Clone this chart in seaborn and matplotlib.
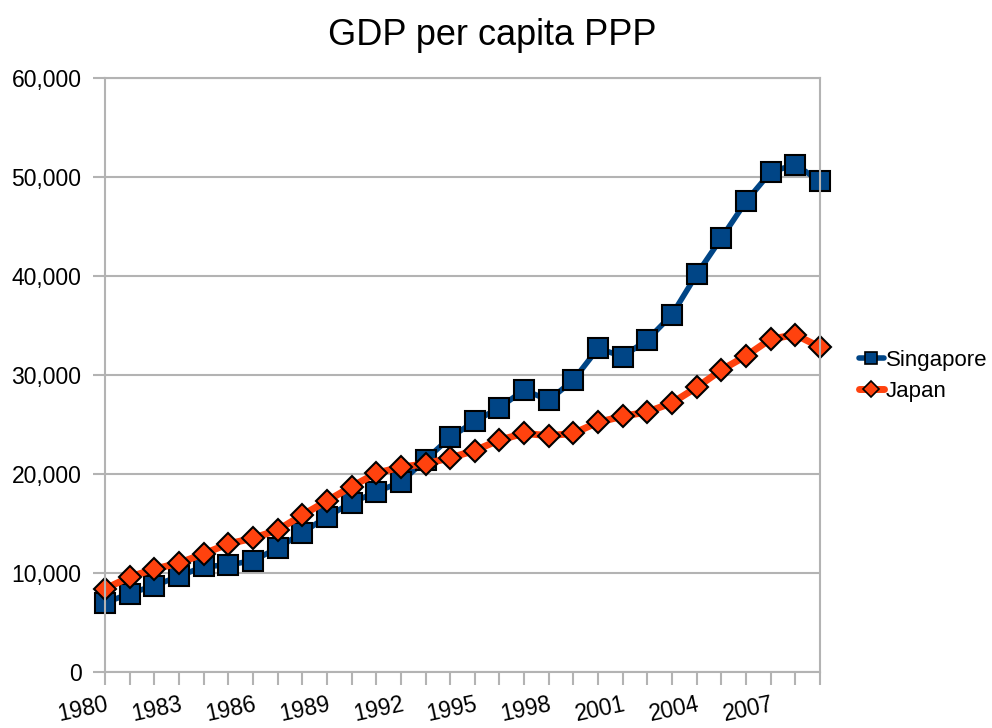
import numpy as np
import pandas as pd
import seaborn as sns
import matplotlib.pyplot as plt

# GDP per capita PPP
years = list(range(1980, 2010))
singapore = [6990, 7920, 8730, 9660, 10660, 10800, 11260, 12500, 14070, 15680,
             17100, 18180, 19190, 21430, 23700, 25310, 26710, 28490, 27450, 29490,
             32700, 31860, 33560, 36100, 40170, 43830, 47530, 50510, 51260, 49560]
japan = [8390, 9600, 10400, 11000, 11940, 12940, 13510, 14340, 15850, 17280,
         18720, 20090, 20690, 21030, 21630, 22370, 23440, 24100, 23870, 24100,
         25230, 25830, 26270, 27190, 28750, 30510, 31930, 33630, 34070, 32820]
countries = ['Singapore', 'Japan']
colors = ['#004586', '#ff420e']

df = pd.DataFrame({
    'year': years * 2,
    'gdp': singapore + japan,
    'country': ['Singapore'] * len(years) + ['Japan'] * len(years),
})

sns.set_theme(style='white')
plt.rcParams['font.family'] = ['Liberation Sans', 'DejaVu Sans']
plt.rcParams['text.color'] = 'black'

fig = plt.figure(figsize=(9.92, 7.28), dpi=100)
ax = fig.add_axes([105 / 992, 56 / 728, 715 / 992, 594 / 728])

sns.lineplot(data=df, x='year', y='gdp', hue='country', style='country',
             hue_order=countries, style_order=countries,
             palette=dict(zip(countries, colors)),
             markers={'Singapore': 's', 'Japan': 'D'}, dashes=False,
             linewidth=4, markersize=15, markeredgecolor='black',
             markeredgewidth=1.5, ax=ax)

# japan diamonds a bit smaller, thicker line; markers not clipped at the edges
for line in ax.get_lines():
    line.set_clip_on(False)
    if line.get_marker() == 'D':
        line.set_markersize(11.5)
        line.set_linewidth(5)

ax.set_xlim(1980, 2009)
ax.set_ylim(0, 60000)
ax.set_yticks(range(0, 60001, 10000))
ax.set_yticklabels([f'{v:,}' for v in range(0, 60001, 10000)])
ax.set_xticks(years)
ax.set_xticklabels([str(y) if (y - 1980) % 3 == 0 else '' for y in years],
                   rotation=12, ha='right', va='top', rotation_mode='anchor')
ax.tick_params(axis='both', direction='out', length=9, width=1.5, color='#b3b3b3',
               labelsize=16.5, labelcolor='black', bottom=True, left=True)
ax.tick_params(axis='x', pad=6)
ax.tick_params(axis='y', pad=8)
ax.yaxis.grid(True, color='#b3b3b3', linewidth=1.5)
ax.xaxis.grid(False)
for s in ax.spines.values():
    s.set_color('#b3b3b3')
    s.set_linewidth(1.5)
ax.set_axisbelow(True)
ax.set_xlabel('')
ax.set_ylabel('')

leg = ax.legend(loc='center left', bbox_to_anchor=(848 / 992, 1 - 376 / 728),
                bbox_transform=fig.transFigure, frameon=False, fontsize=16,
                handlelength=1.1, handletextpad=0.1, labelspacing=0.45, borderpad=0)
for h in leg.get_lines():
    h.set_markersize(9 if h.get_marker() == 's' else 8)
    h.set_markeredgewidth(1.2)

fig.suptitle('GDP per capita PPP', x=492 / 992, y=1 - 18 / 728, va='top',
             fontsize=26, color='black')

fig.savefig('out.png', dpi=100)
